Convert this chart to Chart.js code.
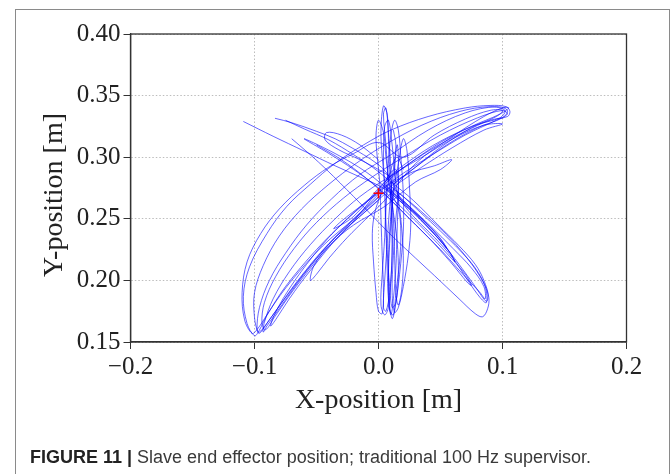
<!DOCTYPE html>
<html><head><meta charset="utf-8">
<script src="https://cdn.jsdelivr.net/npm/chart.js@4"></script>
<style>
html,body{margin:0;padding:0;background:#fff;width:671px;height:474px;overflow:hidden}
#frame{position:absolute;left:15px;top:9px;width:655px;height:490px;border:1.5px solid #8a8a8a;box-sizing:border-box}
#wrap{position:absolute;left:0;top:0;width:671px;height:474px}
#cap{position:absolute;left:30px;top:447px;font-family:'Liberation Sans',Arial,sans-serif;font-size:18px;color:#3a3a3a;white-space:nowrap}
#cap b{color:#222}
</style></head><body>
<div id="frame"></div>
<div id="wrap"><canvas id="c"></canvas></div>
<div id="cap"><b>FIGURE 11 |</b> Slave end effector position; traditional 100 Hz supervisor.</div>
<script>
// ---- axes ----
const xTickValues = [-0.2, -0.1, 0.0, 0.1, 0.2];
const xTickLabels = ['\u22120.2', '\u22120.1', '0.0', '0.1', '0.2'];
const yTickValues = [0.15, 0.20, 0.25, 0.30, 0.35, 0.40];
const yTickLabels = ['0.15', '0.20', '0.25', '0.30', '0.35', '0.40'];
const xTitle = 'X-position [m]';
const yTitle = 'Y-position [m]\u2002';

// ---- trajectory pieces (x [m], y [m]) ----
const ulStrokeX = [-0.109,-0.085,-0.06,-0.035,-0.015,0.0,0.01,0.016,0.018,0.017,0.014,0.012,0.009,0.008,0.009,0.011,0.013,0.014,0.012];
const ulStrokeY = [0.329,0.317,0.305,0.293,0.284,0.277,0.27,0.258,0.24,0.215,0.19,0.172,0.176,0.2,0.23,0.26,0.29,0.31,0.322];

const ulCurveX = [-0.0835,-0.07,-0.05,-0.035,-0.023,-0.012,-0.0015,0.006,0.012,0.02,0.03,0.045,0.06,0.072,0.082,0.087,0.086,0.078,0.066,0.05,0.034,0.02,0.008];
const ulCurveY = [0.3316,0.328,0.321,0.315,0.3085,0.302,0.295,0.288,0.278,0.262,0.25,0.235,0.218,0.2,0.186,0.182,0.195,0.21,0.224,0.24,0.255,0.268,0.278];

const lrOuterX = [-0.07,-0.055,-0.042,-0.02,0.009,0.03,0.045,0.065,0.078,0.084,0.088,0.089,0.085,0.078,0.065,0.048,0.028,0.01,-0.005,-0.02,-0.04,-0.06,-0.075];
const lrOuterY = [0.315,0.302,0.29,0.268,0.238,0.218,0.204,0.185,0.173,0.1705,0.177,0.186,0.2,0.213,0.228,0.245,0.265,0.28,0.292,0.302,0.314,0.323,0.33];

const lrInnerX = [0.005,0.02,0.035,0.05,0.065,0.078,0.087,0.088,0.082,0.07,0.055,0.04,0.025,0.012,0.02,0.035,0.048,0.058,0.0617,0.058,0.045,0.03,0.015,0.005,0.022,0.038,0.05,0.055,0.05,0.035,0.02,0.005];
const lrInnerY = [0.275,0.262,0.248,0.232,0.213,0.195,0.183,0.19,0.203,0.22,0.237,0.251,0.264,0.274,0.265,0.25,0.236,0.222,0.215,0.222,0.238,0.254,0.268,0.278,0.262,0.245,0.232,0.226,0.234,0.25,0.262,0.276];

const lrExtraX = [-0.05,-0.03,-0.01,0.01,0.03,0.05,0.068,0.082,0.086,0.085,0.075,0.06,0.042,0.025,0.01,-0.01,-0.035,-0.06,-0.04,-0.02,0.0,0.02,0.04,0.058,0.072,0.075,0.07,0.055,0.04,0.02,0.005];
const lrExtraY = [0.31,0.298,0.283,0.265,0.245,0.225,0.205,0.19,0.185,0.195,0.21,0.226,0.244,0.26,0.272,0.288,0.303,0.315,0.303,0.29,0.275,0.255,0.235,0.215,0.198,0.196,0.205,0.222,0.238,0.258,0.272];

const bananaOuterX = [0.0,-0.02,-0.045,-0.07,-0.088,-0.097,-0.1,-0.106,-0.109,-0.104,-0.09,-0.074,-0.055,-0.035,-0.012,0.01,0.04,0.07,0.09,0.103,0.106,0.104,0.09,0.07,0.047,0.025,0.01,0.0];
const bananaOuterY = [0.27,0.25,0.228,0.2,0.175,0.158,0.155,0.165,0.187,0.211,0.238,0.26,0.278,0.295,0.31,0.322,0.333,0.34,0.342,0.341,0.337,0.333,0.33,0.321,0.309,0.295,0.283,0.272];

const bananaMidX = [0.0,-0.025,-0.05,-0.072,-0.088,-0.096,-0.098,-0.096,-0.088,-0.075,-0.058,-0.038,-0.015,0.01,0.04,0.07,0.095,0.104,0.1,0.08,0.055,0.03,0.012,-0.01,-0.035,-0.06,-0.078,-0.09,-0.093,-0.092,-0.085,-0.072,-0.055,-0.035,-0.015,0.01,0.035,0.06,0.085,0.1,0.085,0.06,0.035,0.015];
const bananaMidY = [0.268,0.245,0.218,0.19,0.168,0.157,0.16,0.178,0.2,0.222,0.245,0.266,0.286,0.302,0.322,0.336,0.341,0.338,0.332,0.324,0.31,0.292,0.278,0.258,0.235,0.205,0.18,0.163,0.158,0.166,0.185,0.207,0.229,0.25,0.268,0.285,0.3,0.315,0.326,0.327,0.322,0.308,0.292,0.278];

const bananaInnerX = [0.0,-0.03,-0.055,-0.072,-0.083,-0.087,-0.084,-0.074,-0.058,-0.04,-0.02,0.0,0.025,0.045,0.059,0.05,0.03,0.005,-0.02,-0.04,-0.052,-0.055,-0.05,-0.04,-0.025,-0.01,0.005,0.03,0.06,0.085,0.1,0.105,0.098,0.075,0.05,0.025,0.005,-0.02,-0.036,-0.03,-0.012,0.002];
const bananaInnerY = [0.265,0.238,0.208,0.185,0.168,0.163,0.172,0.19,0.213,0.235,0.255,0.272,0.287,0.293,0.298,0.29,0.28,0.26,0.245,0.228,0.212,0.2,0.205,0.218,0.235,0.25,0.265,0.295,0.317,0.333,0.34,0.34,0.335,0.325,0.312,0.295,0.28,0.252,0.242,0.248,0.262,0.272];

const bananaExtraX = [0.005,-0.015,-0.04,-0.065,-0.083,-0.094,-0.097,-0.1,-0.1,-0.093,-0.08,-0.062,-0.04,-0.018,0.005,0.035,0.065,0.09,0.102,0.098,0.078,0.05,0.025,0.008,-0.02,-0.045,-0.068,-0.084,-0.091,-0.094,-0.092,-0.083,-0.068,-0.05,-0.028,-0.005,0.02,0.05,0.08,0.1,0.104,0.095,0.07,0.045,0.02,0.005];
const bananaExtraY = [0.27,0.252,0.23,0.2,0.175,0.16,0.158,0.17,0.19,0.212,0.236,0.258,0.278,0.295,0.31,0.326,0.337,0.341,0.338,0.332,0.326,0.313,0.297,0.283,0.248,0.222,0.193,0.17,0.16,0.165,0.182,0.203,0.226,0.247,0.267,0.284,0.3,0.318,0.332,0.338,0.335,0.33,0.318,0.303,0.287,0.276];

const bananaLeftX = [0.0,-0.025,-0.05,-0.075,-0.09,-0.098,-0.102,-0.108,-0.11,-0.106,-0.095,-0.08,-0.06,-0.04,-0.02,0.0,0.02,0.045,0.07,0.09,0.1,0.095,0.075,0.05,0.03,0.012];
const bananaLeftY = [0.272,0.25,0.225,0.195,0.172,0.16,0.157,0.168,0.19,0.215,0.238,0.258,0.277,0.292,0.303,0.312,0.3,0.318,0.331,0.338,0.338,0.333,0.324,0.308,0.292,0.278];

const topLoopX = [0.0,-0.015,-0.03,-0.042,-0.043,-0.032,-0.015,0.0,0.01];
const topLoopY = [0.298,0.31,0.318,0.32,0.314,0.306,0.298,0.29,0.284];

const verticalX = [0.005,0.003,0.002,0.004,0.007,0.008,0.009,0.01,0.011,0.01,0.008,0.005,0.002,0.003,0.005,0.006,0.008,0.01,0.013,0.016,0.018,0.02,0.02,0.017,0.013,0.011,0.009,0.008,0.009,0.012,0.016,0.02,0.023,0.025,0.026,0.024,0.02,0.016,0.013,0.011,0.012,0.014,0.016,0.014,0.008,0.002,-0.003,-0.005,-0.004,-0.002,0.0,0.003,0.004,0.003,0.002,0.001,-0.001,-0.002,0.0,0.004,0.006,0.009,0.012,0.015,0.016,0.014,0.011,0.009,0.007,0.006,0.01,0.015,0.02];
const verticalY = [0.28,0.3,0.322,0.3416,0.335,0.315,0.29,0.26,0.23,0.2,0.178,0.172,0.18,0.205,0.235,0.265,0.295,0.318,0.33,0.322,0.3,0.27,0.24,0.205,0.175,0.169,0.18,0.21,0.24,0.27,0.295,0.315,0.305,0.275,0.245,0.22,0.195,0.178,0.174,0.19,0.22,0.25,0.275,0.29,0.285,0.27,0.255,0.238,0.215,0.19,0.175,0.173,0.19,0.22,0.25,0.28,0.3,0.318,0.33,0.32,0.3,0.275,0.255,0.232,0.205,0.182,0.178,0.195,0.225,0.26,0.29,0.3,0.29];

const verticalExtraX = [0.008,0.006,0.004,0.006,0.008,0.01,0.011,0.011,0.009,0.006,0.004,0.005,0.007,0.009,0.012,0.015,0.016,0.016,0.015,0.014,0.012,0.01,0.008,0.007,0.006,0.005,0.004,0.005,0.008,0.011,0.014,0.018,0.02,0.019,0.016,0.014,0.013,0.012,0.01];
const verticalExtraY = [0.28,0.31,0.335,0.34,0.32,0.29,0.255,0.22,0.19,0.175,0.178,0.2,0.23,0.26,0.29,0.31,0.3,0.27,0.24,0.21,0.185,0.172,0.185,0.21,0.24,0.27,0.3,0.325,0.33,0.31,0.28,0.25,0.22,0.195,0.18,0.19,0.22,0.25,0.28];

const startX = [0.0];
const startY = [0.2707];

const pieces = [
  [ulStrokeX, ulStrokeY], [ulCurveX, ulCurveY], [lrOuterX, lrOuterY], [lrInnerX, lrInnerY], [lrExtraX, lrExtraY],
  [bananaOuterX, bananaOuterY], [bananaMidX, bananaMidY], [bananaInnerX, bananaInnerY],
  [bananaExtraX, bananaExtraY], [bananaLeftX, bananaLeftY],
  [topLoopX, topLoopY], [verticalX, verticalY], [verticalExtraX, verticalExtraY]
];
const toPts = (xs, ys) => xs.map((x, i) => ({x: x, y: ys[i]}));

const datasets = [{
  data: toPts(startX, startY), showLine: false, pointStyle: 'cross', pointRadius: 5,
  borderColor: '#ff0000', backgroundColor: '#ff0000', pointBorderWidth: 1.6, order: 0
}];
pieces.forEach(p => datasets.push({
  data: toPts(p[0], p[1]), showLine: true, pointRadius: 0, borderWidth: 1,
  borderColor: 'rgba(0,0,255,0.6)', tension: 0.35, order: 1, fill: false
}));

const frameBox = {
  id: 'frameBox',
  afterDraw(chart) {
    const a = chart.chartArea, ctx = chart.ctx;
    ctx.save(); ctx.strokeStyle = '#333'; ctx.lineWidth = 1.3;
    ctx.strokeRect(a.left, a.top, a.right - a.left, a.bottom - a.top);
    ctx.restore();
  }
};

const serif = 'Liberation Serif';
new Chart(document.getElementById('c'), {
  type: 'scatter',
  data: {datasets: datasets},
  plugins: [frameBox],
  options: {
    responsive: true, maintainAspectRatio: false, animation: false,
    layout: {padding: {left: 0, top: 34, right: 44.5, bottom: 0}},
    plugins: {legend: {display: false}, tooltip: {enabled: false}},
    scales: {
      x: {
        type: 'linear', min: -0.2, max: 0.2,
        afterBuildTicks: s => { s.ticks = xTickValues.map(v => ({value: v})); },
        afterFit: s => { s.height = 132; },
        ticks: {callback: (v, i) => xTickLabels[i], font: {family: serif, size: 25}, color: '#222', padding: 3, maxRotation: 0, autoSkip: false},
        grid: {color: '#bdbdbd', lineWidth: 1, tickColor: '#333', tickLength: 7, tickWidth: 1},
        border: {display: true, color: '#333', width: 1.3, dash: [1.5, 2]},
        title: {display: true, text: xTitle, font: {family: serif, size: 28}, color: '#222', padding: {top: 0, bottom: 57}}
      },
      y: {
        type: 'linear', min: 0.15, max: 0.40,
        afterBuildTicks: s => { s.ticks = yTickValues.map(v => ({value: v})); },
        afterFit: s => { s.width = 130.5; },
        ticks: {callback: (v, i) => yTickLabels[i], font: {family: serif, size: 25}, color: '#222', padding: 3, autoSkip: false},
        grid: {color: '#bdbdbd', lineWidth: 1, tickColor: '#333', tickLength: 7, tickWidth: 1},
        border: {display: true, color: '#333', width: 1.3, dash: [1.5, 2]},
        title: {display: true, text: yTitle, font: {family: serif, size: 28}, color: '#222', padding: {top: 38, bottom: 0}}
      }
    }
  }
});
</script>
</body></html>
